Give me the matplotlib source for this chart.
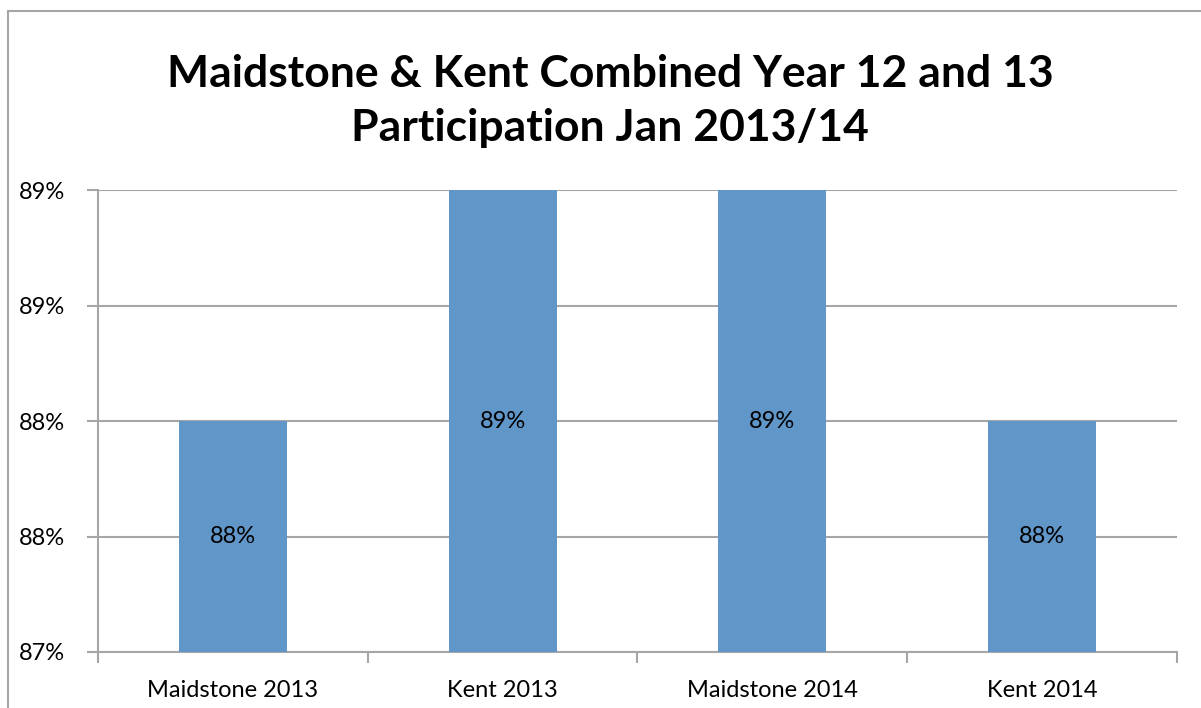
import matplotlib.pyplot as plt
from matplotlib.patches import Rectangle

plt.rcParams['font.family'] = ['Lato', 'DejaVu Sans']

categories = ["Maidstone 2013", "Kent 2013", "Maidstone 2014", "Kent 2014"]
values = [88.0, 89.2, 89.1, 88.0]
y_ticks = [87.0, 87.5, 88.0, 88.5, 89.0]
y_tick_labels = ["87%", "88%", "88%", "89%", "89%"]
title = "Maidstone & Kent Combined Year 12 and 13\nParticipation Jan 2013/14"

bar_color = "#6096c8"
grid_color = "#a6a6a6"
ymin, ymax = 87.0, 89.0

fig = plt.figure(figsize=(12.01, 7.08), dpi=100)
ax = fig.add_axes([0.0816, 0.0791, 0.8984, 0.6525])

# outer chart border (top and left visible)
fig.patches.append(Rectangle((8 / 1201, -0.1), 1.2, 1 - 11 / 708 + 0.1,
                             transform=fig.transFigure, fill=False,
                             edgecolor=grid_color, linewidth=1.5))

x = range(len(categories))
ax.bar(x, values, width=0.4, color=bar_color, zorder=3)

for i, v in enumerate(values):
    mid = (ymin + min(v, ymax)) / 2
    ax.text(i, mid, f"{v:.0f}%", ha="center", va="center", fontsize=17, zorder=4)

ax.set_ylim(ymin, ymax)
ax.set_xlim(-0.5, len(categories) - 0.5)
ax.set_yticks(y_ticks)
ax.set_yticklabels(y_tick_labels, fontsize=17)
ax.set_xticks(list(x))
ax.set_xticklabels(categories, fontsize=17)
ax.tick_params(axis="x", length=0, pad=20)
ax.tick_params(axis="y", length=8, color=grid_color, width=1.5, pad=16)

# category boundary ticks
ax.set_xticks([i + 0.5 for i in range(-1, len(categories))], minor=True)
ax.tick_params(axis="x", which="minor", length=8, color=grid_color, width=1.5)

ax.grid(axis="y", color=grid_color, linewidth=1.5, zorder=0)
for side in ["top", "right"]:
    ax.spines[side].set_visible(False)
for side in ["left", "bottom"]:
    ax.spines[side].set_color(grid_color)
    ax.spines[side].set_linewidth(1.5)

fig.text(0.508, 1 - 101 / 708, title, ha="center", va="center",
         fontsize=32, fontweight="bold", linespacing=1.4)

fig.savefig("out.png", dpi=100)
